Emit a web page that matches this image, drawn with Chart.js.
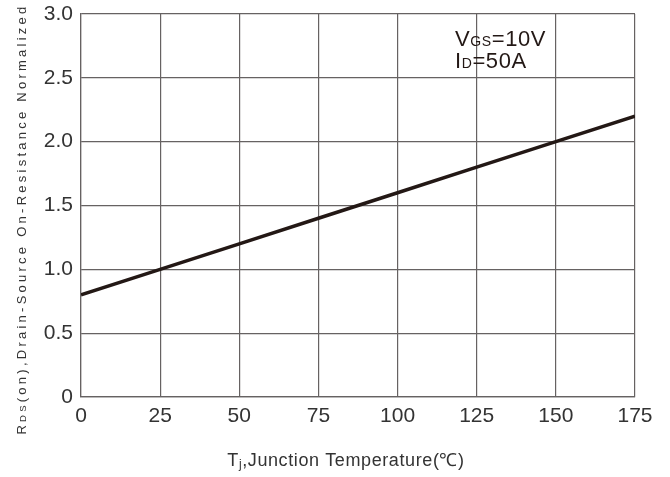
<!DOCTYPE html>
<html>
<head>
<meta charset="utf-8">
<style>
  html, body { margin: 0; padding: 0; background: #ffffff; }
  #wrap { width: 670px; height: 477px; position: relative; }
  canvas { display: block; }
</style>
<script src="https://cdn.jsdelivr.net/npm/chart.js@4.4.1/dist/chart.umd.min.js"></script>
</head>
<body>
<div id="wrap"><canvas id="c" width="670" height="477"></canvas></div>
<script>
// Junction temperature (°C) and normalized on-resistance
const temps = [0, 25, 50, 75, 100, 125, 150, 175];
const rdsNorm = [0.8, 1.0, 1.2, 1.4, 1.6, 1.8, 2.0, 2.2];

// Axis tick values
const xTickValues = [0, 25, 50, 75, 100, 125, 150, 175];
const yTickValues = [0, 0.5, 1.0, 1.5, 2.0, 2.5, 3.0];

const INK = '#231815';
const GRID = '#666262';
const FONT = '"Liberation Sans", Arial, sans-serif';

// Draw a run of text pieces with individual sizes (for small-cap subscripts)
function drawRuns(ctx, runs, x, y, align, spacing) {
  ctx.save();
  ctx.letterSpacing = spacing + 'px';
  let total = 0;
  const widths = runs.map(r => {
    ctx.font = r.size + 'px ' + FONT;
    const w = ctx.measureText(r.text).width;
    total += w;
    return w;
  });
  let cx = align === 'center' ? x - total / 2 : x;
  ctx.textAlign = 'left';
  ctx.textBaseline = 'alphabetic';
  runs.forEach((r, i) => {
    ctx.font = r.size + 'px ' + FONT;
    ctx.fillText(r.text, cx, y + (r.dy || 0));
    cx += widths[i];
  });
  ctx.restore();
}

const labelsPlugin = {
  id: 'labels',
  afterDraw(chart) {
    const ctx = chart.ctx;
    ctx.save();
    ctx.fillStyle = INK;

    // Test conditions inside the plot
    drawRuns(ctx, [
      { text: 'V', size: 22 }, { text: 'GS', size: 14 }, { text: '=10V', size: 22 }
    ], 455, 46, 'left', 0.6);
    drawRuns(ctx, [
      { text: 'I', size: 22 }, { text: 'D', size: 14 }, { text: '=50A', size: 22 }
    ], 455, 68, 'left', 0.6);

    // X axis title
    ctx.fillStyle = '#333333';
    drawRuns(ctx, [
      { text: 'T', size: 18 }, { text: 'j', size: 12, dy: 2 },
      { text: ',Junction Temperature(\u2103)', size: 18 }
    ], 346, 466, 'center', 0.6);

    // Y axis title, rotated
    ctx.translate(26, 219);
    ctx.rotate(-Math.PI / 2);
    drawRuns(ctx, [
      { text: 'R', size: 13 }, { text: 'DS', size: 9.5 },
      { text: '(on),Drain-Source On-Resistance Normalized', size: 13 }
    ], 0, 0, 'center', 3.25);
    ctx.restore();
  }
};

new Chart(document.getElementById('c'), {
  type: 'line',
  data: {
    datasets: [{
      data: temps.map((t, i) => ({ x: t, y: rdsNorm[i] })),
      borderColor: INK,
      borderWidth: 3.5,
      pointRadius: 0,
      tension: 0,
      fill: false
    }]
  },
  options: {
    responsive: false,
    animation: false,
    devicePixelRatio: 1,
    layout: { padding: { top: 14, right: 35, left: 0, bottom: 0 } },
    plugins: { legend: { display: false }, tooltip: { enabled: false } },
    scales: {
      x: {
        type: 'linear',
        min: 0, max: 175,
        afterBuildTicks(scale) { scale.ticks = xTickValues.map(v => ({ value: v })); },
        afterFit(scale) {
          scale.height = 80;
          scale.paddingLeft = 0;
          scale.paddingRight = 0;
        },
        grid: { color: GRID, lineWidth: 1.2, drawTicks: false },
        border: { color: GRID, width: 1.2 },
        ticks: {
          padding: 7,
          color: '#333333',
          font: { family: FONT, size: 21 },
          maxRotation: 0,
          callback: v => String(v)
        }
      },
      y: {
        type: 'linear',
        min: 0, max: 3,
        afterBuildTicks(scale) { scale.ticks = yTickValues.map(v => ({ value: v })); },
        afterFit(scale) {
          scale.width = 81;
          scale.paddingTop = 0;
          scale.paddingBottom = 0;
        },
        grid: { color: GRID, lineWidth: 1.2, drawTicks: false },
        border: { color: GRID, width: 1.2 },
        ticks: {
          padding: 8,
          color: '#333333',
          font: { family: FONT, size: 21 },
          callback: v => (v === 0 ? '0' : v.toFixed(1))
        }
      }
    }
  },
  plugins: [labelsPlugin]
});
</script>
</body>
</html>
